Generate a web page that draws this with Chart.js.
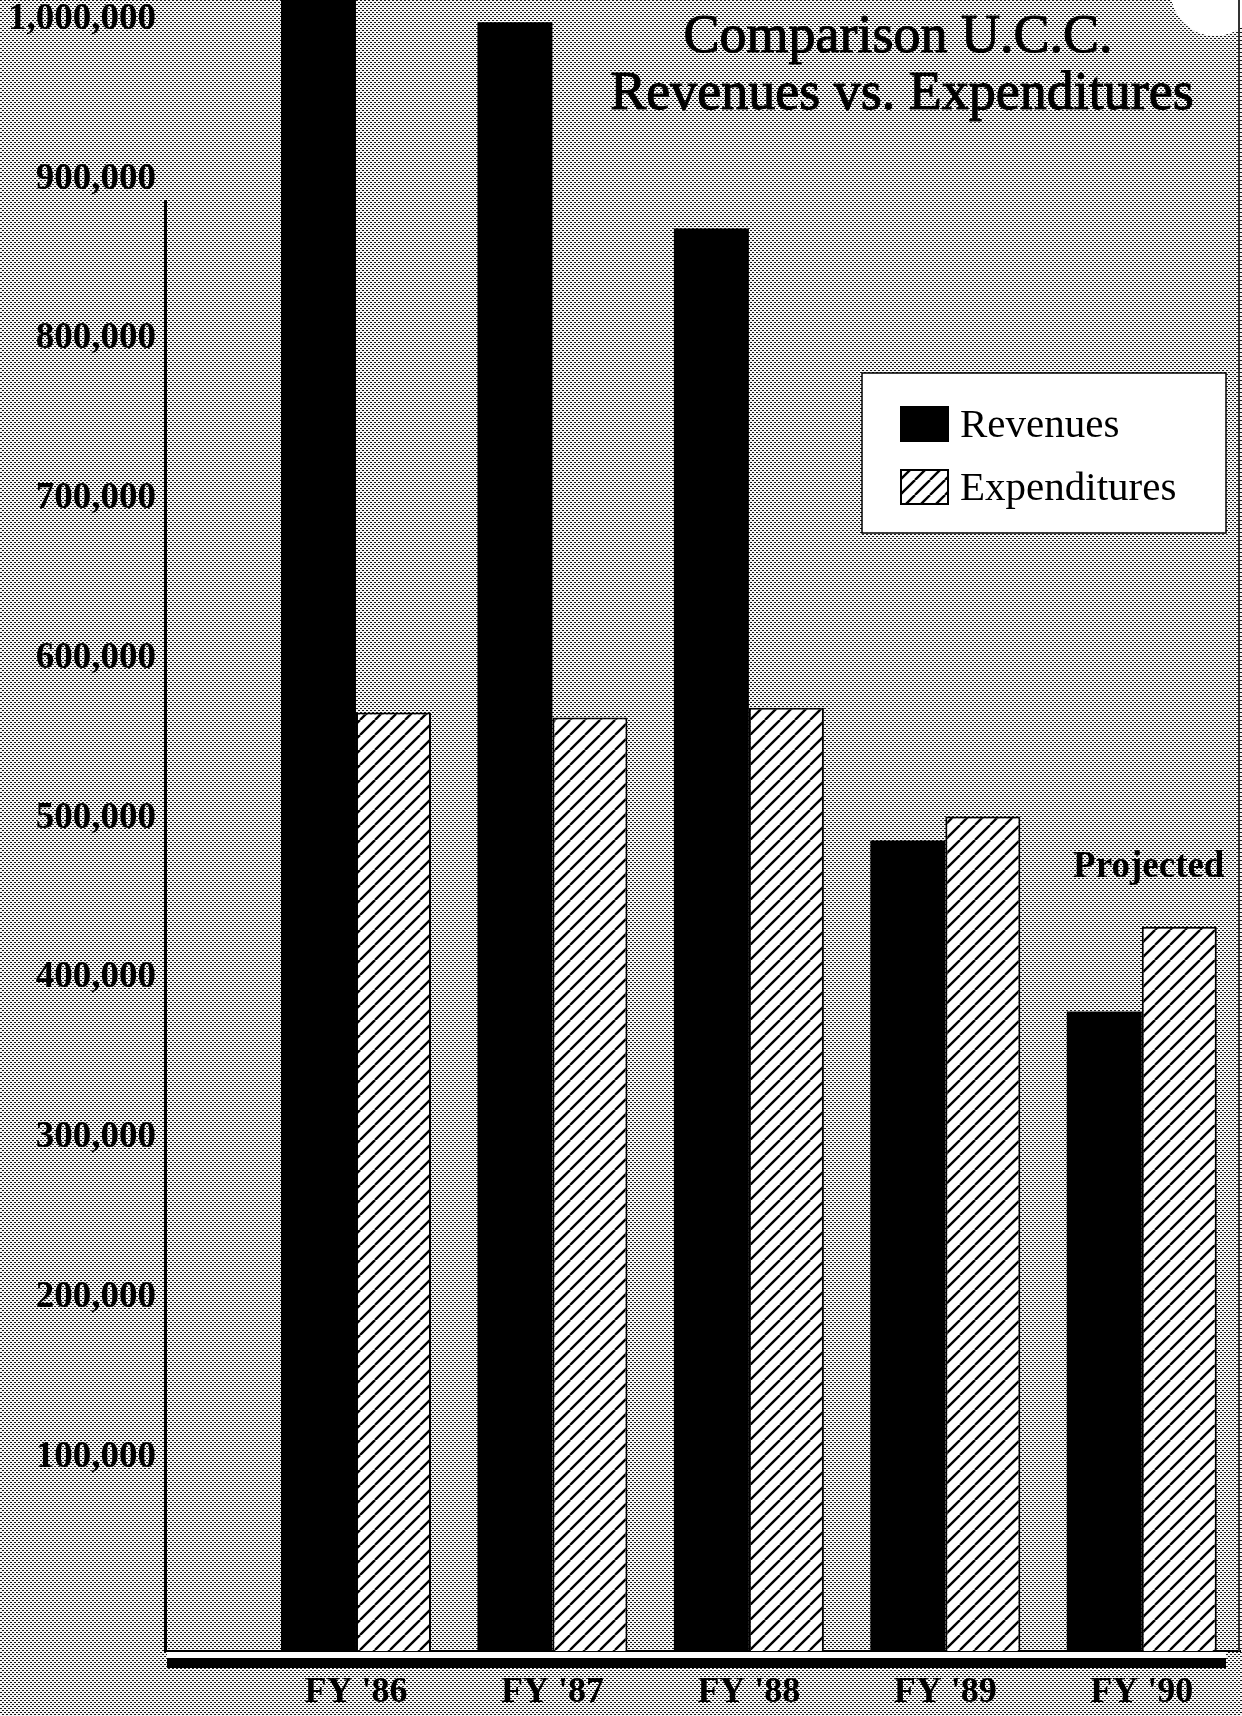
<!DOCTYPE html>
<html>
<head>
<meta charset="utf-8">
<title>Comparison U.C.C. Revenues vs. Expenditures</title>
<script src="https://cdn.jsdelivr.net/npm/chart.js@4.4.1/dist/chart.umd.min.js"></script>
<style>
  html, body { margin: 0; padding: 0; background: #bdbdbd; }
  canvas { display: block; }
</style>
</head>
<body>
<canvas id="chart" width="1242" height="1716"></canvas>
<script>
// Fiscal years on the category axis
const categories = ["FY '86", "FY '87", "FY '88", "FY '89", "FY '90"];
// Dollar amounts per fiscal year (FY '90 is a projection)
const revenues = [1050000, 998000, 869000, 486000, 379000];
const expenditures = [566000, 563000, 569000, 501000, 432000];
// Value-axis labels
const yTickValues = [100000, 200000, 300000, 400000, 500000, 600000, 700000, 800000, 900000, 1000000];
const seriesNames = ['Revenues', 'Expenditures'];
const titleLines = ['Comparison U.C.C.', 'Revenues vs. Expenditures'];
const projectedNote = 'Projected';

const canvas = document.getElementById('chart');
const ctx = canvas.getContext('2d');
const SERIF = '"Liberation Serif", "Times New Roman", serif';

// Grey halftone dot screen used for the page background
function makeHalftone() {
  const t = document.createElement('canvas');
  t.width = 4; t.height = 4;
  const g = t.getContext('2d');
  g.fillStyle = '#f4f4f4';
  g.fillRect(0, 0, 4, 4);
  g.fillStyle = '#151515';
  g.fillRect(0, 0, 2, 1);
  g.fillRect(2, 2, 2, 1);
  return ctx.createPattern(t, 'repeat');
}

// Diagonal "/" hatching for the expenditure bars
function makeHatch() {
  const s = 15;
  const t = document.createElement('canvas');
  t.width = s; t.height = s;
  const g = t.getContext('2d');
  g.fillStyle = '#ffffff';
  g.fillRect(0, 0, s, s);
  g.strokeStyle = '#000000';
  g.lineWidth = 2.4;
  for (const k of [-s, 0, s]) {
    g.beginPath();
    g.moveTo(k, s);
    g.lineTo(k + s, 0);
    g.stroke();
  }
  return ctx.createPattern(t, 'repeat');
}

const halftone = makeHalftone();
const hatch = makeHatch();

const Y_MIN = -21300;
const Y_MAX = 1012000;

const backdrop = {
  id: 'backdrop',
  beforeDraw(chart) {
    const c = chart.ctx;
    c.save();
    c.fillStyle = halftone;
    c.fillRect(0, 0, chart.width, chart.height);
    c.restore();
  }
};

const decorations = {
  id: 'decorations',
  afterDraw(chart) {
    const c = chart.ctx;
    const area = chart.chartArea;
    const xs = chart.scales.x;
    const ys = chart.scales.y;
    c.save();

    // vertical value axis rule
    c.strokeStyle = '#000';
    c.lineWidth = 3;
    c.beginPath();
    c.moveTo(area.left - 1.5, 200);
    c.lineTo(area.left - 1.5, area.bottom + 1);
    c.stroke();

    // heavy base bar under the plot
    c.fillStyle = '#fff';
    c.fillRect(area.left, area.bottom + 1, area.right - area.left - 14, 6);
    c.fillStyle = '#000';
    c.fillRect(area.left, area.bottom + 7, area.right - area.left - 14, 10);

    // title, slightly emboldened with a thin outline
    c.fillStyle = '#000';
    c.strokeStyle = '#000';
    c.lineWidth = 1.1;
    c.textAlign = 'center';
    c.textBaseline = 'middle';
    c.font = '54px ' + SERIF;
    c.fillText(titleLines[0], 898, 38);
    c.strokeText(titleLines[0], 898, 38);
    c.fillText(titleLines[1], 902, 95);
    c.strokeText(titleLines[1], 902, 95);

    // legend box
    const bx = 862, by = 373, bw = 364, bh = 160;
    c.fillStyle = '#fff';
    c.fillRect(bx, by, bw, bh);
    c.strokeStyle = '#000';
    c.lineWidth = 1.5;
    c.strokeRect(bx, by, bw, bh);
    const ds = chart.data.datasets;
    const rows = [424, 487];
    c.textAlign = 'left';
    c.font = '41px ' + SERIF;
    ds.forEach((d, i) => {
      const sy = rows[i] - 18;
      c.fillStyle = d.backgroundColor;
      c.fillRect(900, sy, 49, 36);
      if (d.borderWidth) {
        c.strokeStyle = '#000';
        c.lineWidth = 2;
        c.strokeRect(901, sy + 1, 47, 34);
      }
      c.fillStyle = '#000';
      c.fillText(d.label, 960, rows[i] + 2);
    });

    // projection note over the last year
    c.font = 'bold 37px ' + SERIF;
    c.textAlign = 'center';
    c.fillText(projectedNote, xs.getPixelForValue(4) + 7, ys.getPixelForValue(expenditures[4]) - 59);

    // punched hole at the top right corner
    c.fillStyle = '#fff';
    c.beginPath();
    c.arc(1215, -8, 44, 0, Math.PI * 2);
    c.fill();

    // paper edge on the right
    c.fillStyle = '#333';
    c.fillRect(1238, 0, 2, area.bottom);

    c.restore();
  }
};

new Chart(ctx, {
  type: 'bar',
  data: {
    datasets: [
      {
        label: seriesNames[0],
        data: revenues.map((v, i) => ({ x: i, y: v })),
        backgroundColor: '#000000',
        borderWidth: 0,
        base: Y_MIN
      },
      {
        label: seriesNames[1],
        data: expenditures.map((v, i) => ({ x: i, y: v })),
        backgroundColor: hatch,
        borderColor: '#000000',
        borderWidth: 2,
        base: Y_MIN
      }
    ]
  },
  options: {
    responsive: false,
    animation: false,
    events: [],
    devicePixelRatio: 1,
    categoryPercentage: 0.7636,
    barPercentage: 1.0,
    layout: { padding: { top: 0, right: 2, bottom: 0, left: 0 } },
    plugins: {
      legend: { display: false },
      title: { display: false },
      tooltip: { enabled: false }
    },
    scales: {
      x: {
        type: 'linear',
        min: -0.962,
        max: 4.5,
        bounds: 'data',
        offset: false,
        afterBuildTicks: s => { s.ticks = categories.map((_, i) => ({ value: i })); },
        afterFit: s => { s.height = 65; s.paddingLeft = 0; s.paddingRight = 0; },
        ticks: {
          callback: v => categories[v],
          autoSkip: false,
          maxRotation: 0,
          color: '#000',
          padding: 20,
          font: { family: SERIF, size: 36, weight: 'bold' }
        },
        grid: { display: false, drawTicks: false },
        border: { display: true, color: '#000', width: 2 }
      },
      y: {
        min: Y_MIN,
        max: Y_MAX,
        bounds: 'data',
        afterBuildTicks: s => { s.ticks = yTickValues.map(v => ({ value: v })); },
        afterFit: s => { s.width = 167; s.paddingTop = 0; s.paddingBottom = 0; },
        ticks: {
          callback: v => v.toLocaleString('en-US'),
          color: '#000',
          padding: 11,
          font: { family: SERIF, size: 37, weight: 'bold' }
        },
        grid: { display: false, drawTicks: false },
        border: { display: false }
      }
    }
  },
  plugins: [backdrop, decorations]
});
</script>
</body>
</html>
